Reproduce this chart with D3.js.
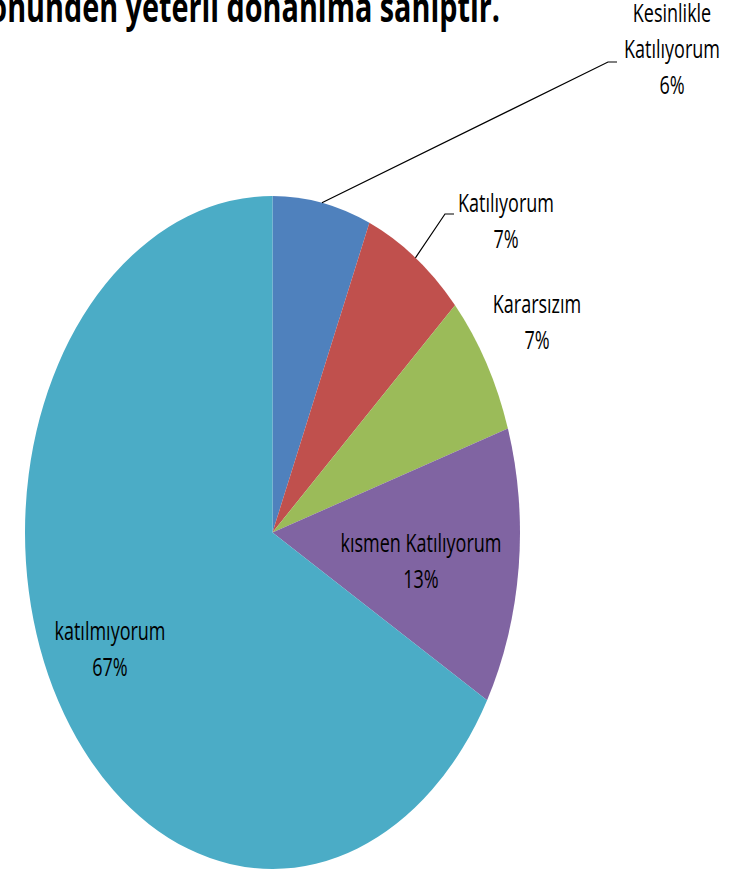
<!DOCTYPE html>
<html>
<head>
<meta charset="utf-8">
<style>
  body { margin: 0; background: #fff; }
  svg { display: block; }
  text { font-family: "Open Sans", "Noto Sans", sans-serif; fill: #000; }
</style>
</head>
<body>
<svg width="749" height="874"></svg>
<script src="https://d3js.org/d3.v7.min.js"></script>
<script>
// chart data
var categories = ["Kesinlikle Katılıyorum", "Katılıyorum", "Kararsızım", "kısmen Katılıyorum", "katılmıyorum"];
var values = [6.4, 6.8, 6.8, 13.3, 66.7];
var labelLines = [["Kesinlikle", "Katılıyorum"], ["Katılıyorum"], ["Kararsızım"], ["kısmen Katılıyorum"], ["katılmıyorum"]];
var colors = ["#4F81BD", "#C0504D", "#9BBB59", "#8064A2", "#4BACC6"];
var title = "yönünden yeterli donanıma sahiptir.";

// label placement (center x, first baseline y) and leader elbows
var labelPos = [[672, 22], [506, 212], [537, 313], [421, 552], [110, 640]];
var leaderElbow = [[608, 62], [445, 214], null, null, null];
var lineGap = 36;

var svg = d3.select("svg");

// the pie is drawn as a circle and stretched vertically into an ellipse
var cx = 272.5, cy = 532.5, rx = 247.5, ry = 336.5;
var sy = ry / rx;

var pie = d3.pie().sort(null).value(function(d) { return d; });
var arcs = pie(values);
var arc = d3.arc().innerRadius(0).outerRadius(rx);

var g = svg.append("g")
    .attr("transform", "translate(" + cx + "," + cy + ") scale(1," + sy + ")");

g.selectAll("path")
  .data(arcs)
  .enter().append("path")
    .attr("d", arc)
    .attr("fill", function(d, i) { return colors[i]; });

var total = d3.sum(values);
var pct = d3.format(".0%");

// point on the ellipse edge at the slice's mid angle
function edgePoint(d) {
  var a = (d.startAngle + d.endAngle) / 2;
  return [cx + rx * Math.sin(a), cy - ry * Math.cos(a)];
}

// leader lines
arcs.forEach(function(d, i) {
  if (!leaderElbow[i]) return;
  var p = edgePoint(d), e = leaderElbow[i];
  svg.append("polyline")
      .attr("points", [p, e, [e[0] + 9, e[1]]].map(function(q) { return q.join(","); }).join(" "))
      .attr("fill", "none")
      .attr("stroke", "#000")
      .attr("stroke-width", 1.2);
});

// data labels (text is stretched like the rest of the picture)
arcs.forEach(function(d, i) {
  var lines = labelLines[i].concat([pct(values[i] / total)]);
  var lg = svg.append("g")
      .attr("transform", "translate(" + labelPos[i][0] + "," + labelPos[i][1] + ")");
  lines.forEach(function(t, j) {
    lg.append("text")
        .attr("transform", "translate(0," + (j * lineGap) + ") scale(0.8,1.1)")
        .attr("text-anchor", "middle")
        .attr("font-size", 22.5)
        .text(t);
  });
});

// title, cut off by the top and left edges
svg.append("text")
    .attr("transform", "translate(500,22) scale(0.72,1.05)")
    .attr("text-anchor", "end")
    .attr("font-size", 40)
    .attr("font-weight", "bold")
    .text(title);
</script>
</body>
</html>
